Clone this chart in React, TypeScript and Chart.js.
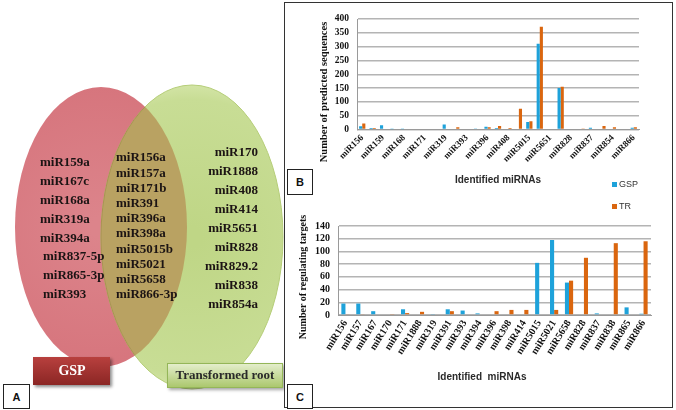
import React, { useEffect, useRef } from 'react';
import { Chart, registerables } from 'chart.js';

Chart.register(...registerables);

// ---------- Panel A : Venn sets ----------
const gspOnly = ['miR159a', 'miR167c', 'miR168a', 'miR319a', 'miR394a', 'miR837-5p', 'miR865-3p', 'miR393'];
const sharedSet = ['miR156a', 'miR157a', 'miR171b', 'miR391', 'miR396a', 'miR398a', 'miR5015b', 'miR5021', 'miR5658', 'miR866-3p'];
const trOnly = ['miR170', 'miR1888', 'miR408', 'miR414', 'miR5651', 'miR828', 'miR829.2', 'miR838', 'miR854a'];
const setNames = ['GSP', 'Transformed root'];

// ---------- Panel B : predicted sequences ----------
const predCategories = [
  'miR156', 'miR157', 'miR159', 'miR167', 'miR168', 'miR170', 'miR171', 'miR1888', 'miR319',
  'miR391', 'miR393', 'miR394', 'miR396', 'miR398', 'miR408', 'miR414', 'miR5015', 'miR5021',
  'miR5651', 'miR5658', 'miR828', 'miR829', 'miR837', 'miR838', 'miR854', 'miR865', 'miR866',
];
const predGSP = [12, 5, 15, 1, 1, 0, 0, 0, 18, 0, 0, 4, 10, 5, 0, 0, 27, 310, 0, 150, 0, 0, 6, 0, 0, 3, 6];
const predTR = [22, 5, 0, 0, 0, 0, 0, 0, 0, 8, 0, 0, 8, 13, 5, 75, 30, 372, 0, 155, 3, 2, 0, 13, 8, 0, 8];

// ---------- Panel C : regulating targets ----------
const targetCategories = [
  'miR156', 'miR157', 'miR167', 'miR170', 'miR171', 'miR1888', 'miR319', 'miR391', 'miR393',
  'miR394', 'miR396', 'miR398', 'miR414', 'miR5015', 'miR5021', 'miR5658', 'miR828', 'miR837',
  'miR838', 'miR865', 'miR866',
];
const targetGSP = [18, 18, 6, 0, 9, 0, 1.5, 9, 7, 2.5, 0, 0, 0, 82, 118, 51, 0, 2.5, 0, 12, 2];
const targetTR = [1, 1, 0, 1.5, 3, 5, 0, 6, 0, 0, 6, 8, 8, 0, 8, 54, 90, 0, 113, 0, 116];

const seriesNames = ['GSP', 'TR'];
const BLUE = '#1EA2DA';
const ORANGE = '#DA660F';
const SERIF = '"Liberation Serif", "Times New Roman", serif';
const SANS = '"Liberation Sans", Arial, sans-serif';

const vennPlugin = {
  id: 'vennDraw',
  beforeDatasetsDraw(chart: any) {
    const { ctx, scales } = chart;
    const x = scales.x;
    const y = scales.y;
    const px = (v: number) => x.getPixelForValue(v);
    const py = (v: number) => y.getPixelForValue(v);
    const ell = (cx: number, cy: number, rx: number, ry: number) => {
      ctx.beginPath();
      ctx.ellipse(px(cx), py(cy), Math.abs(px(cx + rx) - px(cx)), Math.abs(py(cy + ry) - py(cy)), 0, 0, Math.PI * 2);
    };
    ctx.save();
    ell(101, 227, 86, 140);
    const rg = ctx.createRadialGradient(px(101), py(227), 10, px(101), py(227), 150);
    rg.addColorStop(0, '#DC848B');
    rg.addColorStop(1, '#D6747C');
    ctx.fillStyle = rg;
    ctx.fill();
    ell(192, 237, 91, 152);
    const gg = ctx.createRadialGradient(px(192), py(237), 10, px(192), py(237), 160);
    gg.addColorStop(0, '#BFD686');
    gg.addColorStop(0.85, '#C8DD95');
    gg.addColorStop(1, '#D8E8AE');
    ctx.fillStyle = gg;
    ctx.fill();
    ctx.strokeStyle = '#B5CD78';
    ctx.lineWidth = 1;
    ctx.stroke();
    ctx.save();
    ell(101, 227, 86, 140);
    ctx.clip();
    ell(192, 237, 91, 152);
    ctx.fillStyle = '#B9A262';
    ctx.fill();
    ctx.strokeStyle = '#A99253';
    ctx.stroke();
    ctx.restore();
    ctx.restore();
  },
  afterDatasetsDraw(chart: any) {
    const { ctx, scales } = chart;
    const px = (v: number) => scales.x.getPixelForValue(v);
    const py = (v: number) => scales.y.getPixelForValue(v);
    ctx.save();
    ctx.font = `bold 13px ${SERIF}`;
    ctx.fillStyle = '#1c1414';
    ctx.textBaseline = 'middle';
    ctx.textAlign = 'left';
    gspOnly.forEach((t, i) => ctx.fillText(t, px(i >= 5 ? 43 : 40), py(163 + i * 18.8)));
    sharedSet.forEach((t, i) => ctx.fillText(t, px(116), py(158 + i * 15.2)));
    ctx.textAlign = 'right';
    trOnly.forEach((t, i) => ctx.fillText(t, px(258), py(153 + i * 18.9)));

    ctx.save();
    ctx.shadowColor = 'rgba(0,0,0,0.45)';
    ctx.shadowOffsetX = 2;
    ctx.shadowOffsetY = 2;
    ctx.shadowBlur = 3;
    const g1 = ctx.createLinearGradient(0, py(357), 0, py(385));
    g1.addColorStop(0, '#B8403E');
    g1.addColorStop(1, '#8B2624');
    ctx.fillStyle = g1;
    ctx.fillRect(px(33), py(357), px(110) - px(33), py(385) - py(357));
    ctx.restore();
    ctx.font = `bold 14px ${SERIF}`;
    ctx.fillStyle = '#ffffff';
    ctx.textAlign = 'center';
    ctx.fillText(setNames[0], px(72), py(371));

    ctx.save();
    ctx.shadowColor = 'rgba(0,0,0,0.35)';
    ctx.shadowOffsetX = 2;
    ctx.shadowOffsetY = 2;
    ctx.shadowBlur = 3;
    const g2 = ctx.createLinearGradient(0, py(363), 0, py(388));
    g2.addColorStop(0, '#E6EFCF');
    g2.addColorStop(1, '#A9C66A');
    ctx.fillStyle = g2;
    ctx.fillRect(px(167), py(363), px(283) - px(167), py(388) - py(363));
    ctx.restore();
    ctx.strokeStyle = '#94B658';
    ctx.lineWidth = 1;
    ctx.strokeRect(px(167) + 0.5, py(363) + 0.5, px(283) - px(167) - 1, py(388) - py(363) - 1);
    ctx.font = `bold 13px ${SERIF}`;
    ctx.fillStyle = '#2a2a2a';
    ctx.fillText(setNames[1], px(225), py(376));
    ctx.restore();
  },
};

function barOptions(cfg: {
  max: number; step: number; yWidth: number; xHeight: number; padTop: number; padRight: number;
  rot: number; xFont: number; yFont: number; every: number; labels: string[];
}) {
  return {
    responsive: false,
    animation: false as const,
    layout: { padding: { top: cfg.padTop, right: cfg.padRight, left: 0, bottom: 0 } },
    plugins: { legend: { display: false }, tooltip: { enabled: false }, title: { display: false } },
    scales: {
      x: {
        grid: { display: false, drawTicks: false },
        border: { display: true, color: '#9a9a9a', width: 1 },
        ticks: {
          autoSkip: false,
          minRotation: cfg.rot,
          maxRotation: cfg.rot,
          padding: 3,
          color: '#111',
          font: { family: SERIF, size: cfg.xFont, weight: 'bold' as const },
          callback: (_v: any, i: number) => (i % cfg.every === 0 ? cfg.labels[i] : ''),
        },
        afterFit: (s: any) => { s.height = cfg.xHeight; },
      },
      y: {
        min: 0,
        max: cfg.max,
        grid: { color: '#B4B4B4', lineWidth: 1.5, drawTicks: false },
        border: { display: true, color: '#9a9a9a', width: 1 },
        ticks: {
          stepSize: cfg.step,
          autoSkip: false,
          padding: 8,
          color: '#111',
          font: { family: SERIF, size: cfg.yFont, weight: 'bold' as const },
        },
        afterFit: (s: any) => { s.width = cfg.yWidth; },
      },
    },
  };
}

export default function App() {
  const vennRef = useRef<HTMLCanvasElement>(null);
  const bRef = useRef<HTMLCanvasElement>(null);
  const cRef = useRef<HTMLCanvasElement>(null);

  useEffect(() => {
    const charts: Chart[] = [];
    if (vennRef.current) {
      charts.push(new Chart(vennRef.current, {
        type: 'scatter',
        data: { datasets: [{ data: [], showLine: false }] },
        options: {
          responsive: false,
          animation: false,
          layout: { padding: 0 },
          plugins: { legend: { display: false }, tooltip: { enabled: false } },
          scales: {
            x: { type: 'linear', min: 0, max: 284, display: false },
            y: { type: 'linear', min: 0, max: 410, reverse: true, display: false },
          },
        },
        plugins: [vennPlugin],
      } as any));
    }
    if (bRef.current) {
      charts.push(new Chart(bRef.current, {
        type: 'bar',
        data: {
          labels: predCategories,
          datasets: [
            { label: seriesNames[0], data: predGSP, backgroundColor: BLUE, categoryPercentage: 0.6, barPercentage: 1 },
            { label: seriesNames[1], data: predTR, backgroundColor: ORANGE, categoryPercentage: 0.6, barPercentage: 1 },
          ],
        },
        options: barOptions({
          max: 400, step: 50, yWidth: 73, xHeight: 82.5, padTop: 19, padRight: 37,
          rot: 45, xFont: 9, yFont: 9.5, every: 2, labels: predCategories,
        }),
      } as any));
    }
    if (cRef.current) {
      charts.push(new Chart(cRef.current, {
        type: 'bar',
        data: {
          labels: targetCategories,
          datasets: [
            { label: seriesNames[0], data: targetGSP, backgroundColor: BLUE, categoryPercentage: 0.55, barPercentage: 1 },
            { label: seriesNames[1], data: targetTR, backgroundColor: ORANGE, categoryPercentage: 0.55, barPercentage: 1 },
          ],
        },
        options: barOptions({
          max: 140, step: 20, yWidth: 54, xHeight: 93, padTop: 13, padRight: 25,
          rot: 58, xFont: 10, yFont: 10, every: 1, labels: targetCategories,
        }),
      } as any));
    }
    return () => charts.forEach((c) => c.destroy());
  }, []);

  const abs = (l: number, t: number, extra: React.CSSProperties = {}): React.CSSProperties => ({
    position: 'absolute', left: l, top: t, ...extra,
  });
  const letterBox = (l: number, t: number, w: number, h: number): React.CSSProperties => ({
    position: 'absolute', left: l, top: t, width: w, height: h, border: '1px solid #222', boxSizing: 'border-box',
    display: 'flex', alignItems: 'center', justifyContent: 'center', fontFamily: SANS, fontSize: 11,
    fontWeight: 'bold', color: '#111', background: '#fff',
  });
  const rotTitle = (cx: number, cy: number, size: number): React.CSSProperties => ({
    position: 'absolute', left: cx, top: cy, transform: 'translate(-50%, -50%) rotate(-90deg)',
    whiteSpace: 'nowrap', fontFamily: SERIF, fontWeight: 'bold', fontSize: size, color: '#111', lineHeight: 1,
  });
  const xTitle = (cx: number, cy: number): React.CSSProperties => ({
    position: 'absolute', left: cx, top: cy, transform: 'translate(-50%, -50%)', whiteSpace: 'pre',
    fontFamily: SANS, fontWeight: 'bold', fontSize: 10, color: '#2a2a2a', lineHeight: 1,
  });
  const legendItem = (t: number): React.CSSProperties => ({
    position: 'absolute', left: 612, top: t, display: 'flex', alignItems: 'center', fontFamily: SANS,
    fontSize: 9, color: '#333', lineHeight: 1,
  });

  return (
    <div style={{ position: 'fixed', left: 0, top: 0, width: 676, height: 410, background: '#fff', overflow: 'hidden' }}>
      <canvas ref={vennRef} width={284} height={410} style={abs(0, 0, { width: 284, height: 410 })} />
      <div style={letterBox(3, 384, 27, 25)}>A</div>

      <div style={{ position: 'absolute', left: 284, top: 2, width: 389, height: 406, border: '1px solid #333', boxSizing: 'border-box' }} />
      <canvas ref={bRef} width={392} height={212} style={abs(284, 0, { width: 392, height: 212 })} />
      <canvas ref={cRef} width={392} height={196} style={abs(284, 212, { width: 392, height: 196 })} />

      <div style={rotTitle(324, 92, 10.5)}>Number of predicted sequences</div>
      <div style={rotTitle(303, 277, 10)}>Number of regulating targets</div>
      <div style={xTitle(498, 180)}>Identified miRNAs</div>
      <div style={xTitle(482, 377)}>{'Identified  miRNAs'}</div>

      <div style={legendItem(180)}>
        <span style={{ display: 'inline-block', width: 5, height: 5, background: BLUE, marginRight: 2 }} />
        {seriesNames[0]}
      </div>
      <div style={legendItem(202)}>
        <span style={{ display: 'inline-block', width: 5, height: 5, background: ORANGE, marginRight: 2 }} />
        {seriesNames[1]}
      </div>

      <div style={letterBox(287, 169, 26, 26)}>B</div>
      <div style={letterBox(287, 384, 26, 25)}>C</div>
    </div>
  );
}
